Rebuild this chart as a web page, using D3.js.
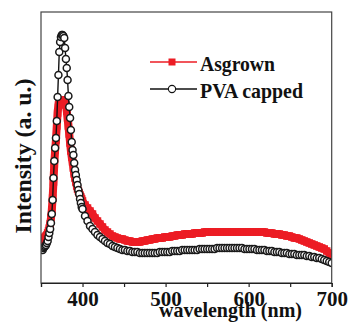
<!DOCTYPE html>
<html><head><meta charset="utf-8">
<script src="https://cdn.jsdelivr.net/npm/d3@7"></script>
<style>html,body{margin:0;padding:0;background:#fff;}svg{display:block;}</style>
</head><body>
<svg id="chart" width="350" height="323"></svg>
<script>
// ---- data ----
const seriesNames = ["Asgrown", "PVA capped"];
const tickValues = [350, 400, 450, 500, 550, 600, 650, 700];
const tickLabels = ["", "400", "", "500", "", "600", "", "700"];

const asWavelength = [351,352,353,354,355,356,357,358,359,360,361,362,363,364,365,366,367,368,369,370,
  371,372,373,374,375,376,377,378,379,380,381,382,383,384,385,386,387,388,389,390,
  391,392,393,394,395,396,397,398,399,400,
  403,406,409,412,415,418,421,424,427,430,433,436,439,442,445,448,451,454,457,460,
  463,466,469,472,475,478,481,484,487,490,493,496,499,502,505,508,511,514,517,520,
  523,526,529,532,535,538,541,544,547,550,553,556,559,562,565,568,571,574,577,580,
  583,586,589,592,595,598,601,604,607,610,613,616,619,622,625,628,631,634,637,640,
  643,646,649,652,655,658,661,664,667,670,673,676,679,682,685,688,691,694,697,700];
const asIntensity = [42,43,44,45,46,47,48,50,52,55,59,65,73,85,101,119,133,143,157,170,
  178,181,182,183,183,183,183,183,182,178,172,165,157,149,140,132,126,121,115,109,
  105,101,97,94,92,90,88,86,84,82,
  78,75,72,69,65,62,59,56,53,51,49,47,46,45,44,44,43,42,42,41,
  41,41,41,42,42,43,43,44,44,45,45,45,46,46,46,47,47,48,48,48,
  49,49,49,49,50,50,50,50,51,51,51,51,51,51,51,51,51,51,51,51,
  51,51,51,51,51,51,51,51,51,51,51,51,51,50,50,50,49,49,49,48,
  48,47,47,46,45,45,44,43,42,41,40,39,38,37,36,35,34,32,30,28];

const pvaWavelength = [352,353,354,355,356,357,358,359,360,361,362,363,364,365,366,367,368,369,370,
  371,372,373,374,375,376,377,378,379,380,381,382,383,384,385,386,387,388,389,390,
  391,392,393,394,395,396,397,398,399,400,
  403,406,409,412,415,418,421,424,427,430,433,436,439,442,445,448,451,454,457,460,
  463,466,469,472,475,478,481,484,487,490,493,496,499,502,505,508,511,514,517,520,
  523,526,529,532,535,538,541,544,547,550,553,556,559,562,565,568,571,574,577,580,
  583,586,589,592,595,598,601,604,607,610,613,616,619,622,625,628,631,634,637,640,
  643,646,649,652,655,658,661,664,667,670,673,676,679,682,685,688,691,694,697,700];
const pvaIntensity = [33,35,36,37,38,40,42,46,50,54,60,69,83,105,122,135,145,162,186,
  208,231,241,246,248,248,247,245,235,224,215,203,187,176,165,153,141,133,128,120,
  113,108,103,98,93,89,84,80,76,74,
  67,62,57,54,51,48,46,44,42,40,39,37,36,35,34,33,33,32,32,31,
  31,31,30,30,30,30,30,30,30,30,31,31,31,31,31,32,32,32,32,33,
  33,33,33,33,33,33,34,34,34,34,34,34,34,35,35,35,35,35,35,35,
  35,35,35,35,34,34,34,34,34,33,33,33,33,32,32,32,31,31,31,30,
  30,30,29,29,29,28,28,28,28,27,27,26,26,25,25,24,23,22,21,20];

// ---- layout ----
const svg = d3.select("#chart");
const L = 41, R = 331.7, T = 12, B = 283;
const x = d3.scaleLinear().domain([350, 700]).range([L, R]);
const y = d3.scaleLinear().domain([0, 271]).range([B, T]);
const red = "#ec1c24";
const FONT = '"Liberation Serif", "Times New Roman", serif';
const styleText = sel => sel.style("font-family", FONT).style("font-weight", "bold").attr("fill", "#111");

svg.append("clipPath").attr("id", "clip").append("rect")
  .attr("x", L).attr("y", T).attr("width", R - L).attr("height", B - T);

const plot = svg.append("g").attr("clip-path", "url(#clip)");
const asData = asWavelength.map((w, i) => [w, asIntensity[i]]);
const pvaData = pvaWavelength.map((w, i) => [w, pvaIntensity[i]]);
const line = d3.line().x(d => x(d[0])).y(d => y(d[1]));

// Asgrown (red, filled squares)
plot.append("path").datum(asData).attr("d", line)
  .attr("fill", "none").attr("stroke", red).attr("stroke-width", 8)
  .attr("stroke-linejoin", "round");
const sq = 7.5;
plot.selectAll("rect.as").data(asData).enter().append("rect")
  .attr("class", "as")
  .attr("x", d => x(d[0]) - sq / 2).attr("y", d => y(d[1]) - sq / 2)
  .attr("width", sq).attr("height", sq).attr("fill", red);

// PVA capped (black line, open circles)
plot.append("path").datum(pvaData).attr("d", line)
  .attr("fill", "none").attr("stroke", "#111").attr("stroke-width", 1.4);
plot.selectAll("circle.pva").data(pvaData).enter().append("circle")
  .attr("class", "pva")
  .attr("cx", d => x(d[0])).attr("cy", d => y(d[1])).attr("r", 3.5)
  .attr("fill", "#fff").attr("stroke", "#1a1a1a").attr("stroke-width", 1.5);

// frame
svg.append("rect").attr("x", L).attr("y", T).attr("width", R - L).attr("height", B - T)
  .attr("fill", "none").attr("stroke", "#444").attr("stroke-width", 1.2);

// x axis
const xAxis = d3.axisBottom(x).tickValues(tickValues).tickSize(4)
  .tickFormat((d, i) => tickLabels[i]);
const gx = svg.append("g").attr("transform", `translate(0,${B})`).call(xAxis);
gx.select(".domain").attr("stroke", "#222").attr("stroke-width", 1.2);
gx.selectAll(".tick line").attr("stroke", "#222").attr("stroke-width", 1.2);
gx.selectAll(".tick text").call(styleText).attr("font-size", 21)
  .attr("dy", 0).attr("y", 23);

// axis titles
svg.append("text").attr("x", 159).attr("y", 317).call(styleText)
  .attr("font-size", 21)
  .attr("textLength", 143).attr("lengthAdjust", "spacingAndGlyphs")
  .text("wavelength (nm)");
svg.append("text").attr("transform", "translate(31,156) rotate(-90)").call(styleText)
  .attr("text-anchor", "middle")
  .attr("font-size", 23)
  .attr("textLength", 155).attr("lengthAdjust", "spacingAndGlyphs")
  .text("Intensity (a. u.)");

// legend
const lg = svg.append("g");
const legendY = [62, 89];
lg.append("line").attr("x1", 150).attr("x2", 197).attr("y1", legendY[0]).attr("y2", legendY[0])
  .attr("stroke", red).attr("stroke-width", 1.6);
lg.append("rect").attr("x", 172 - 3.5).attr("y", legendY[0] - 3.5).attr("width", 7).attr("height", 7).attr("fill", red);
lg.append("line").attr("x1", 150).attr("x2", 197).attr("y1", legendY[1]).attr("y2", legendY[1])
  .attr("stroke", "#111").attr("stroke-width", 1.6);
lg.append("circle").attr("cx", 172).attr("cy", legendY[1]).attr("r", 3.6)
  .attr("fill", "#fff").attr("stroke", "#111").attr("stroke-width", 1.1);
const legendWidths = [75, 103];
seriesNames.forEach((n, i) => {
  lg.append("text").attr("x", 200).attr("y", legendY[i] + 9).call(styleText)
    .attr("font-size", 21)
    .attr("textLength", legendWidths[i]).attr("lengthAdjust", "spacingAndGlyphs")
    .text(n);
});
</script>
</body></html>
